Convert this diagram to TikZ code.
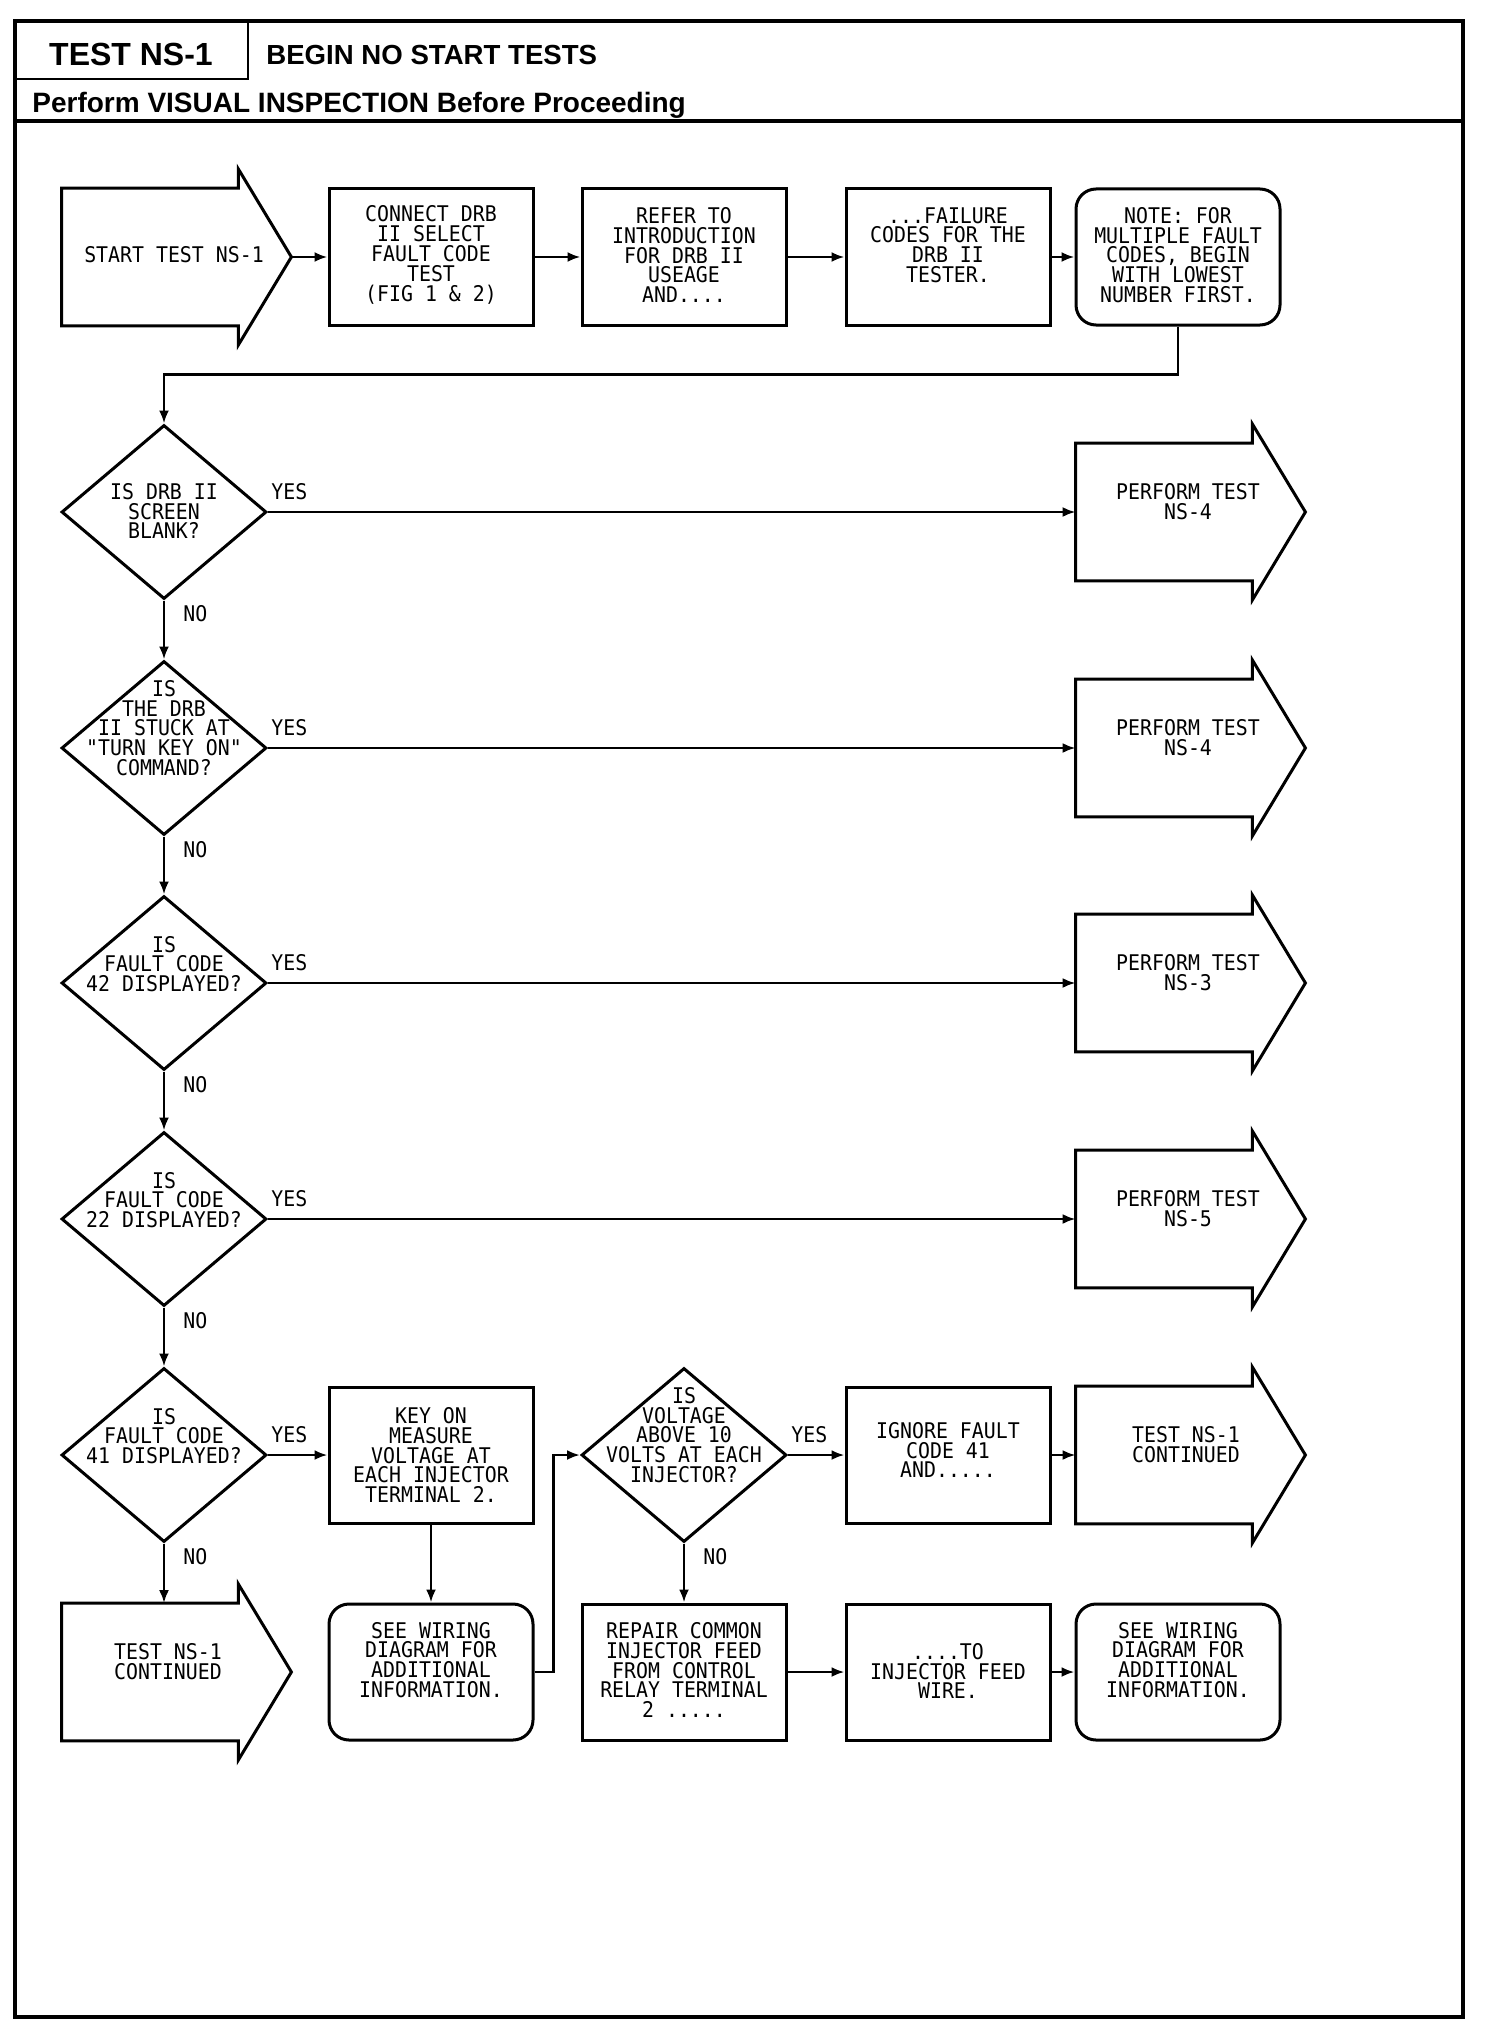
\documentclass[tikz,border=0pt]{standalone}
\usepackage{fontspec}
\setmainfont{Liberation Sans}
\newfontfamily\plotfont[FakeStretch=0.92,BoldFont={DejaVu Sans Mono Bold}]{DejaVu Sans Mono}
\usetikzlibrary{shapes.geometric,arrows.meta,calc}
\newcommand\arrowoutline[1]{%
  \coordinate (#1tip) at ($(#1.east)+(53,0)$);
  \draw[shapeline] (#1.south west) -- (#1.north west) -- (#1.north east) -- ($(#1.north east)+(0,-19)$) -- (#1tip) -- ($(#1.south east)+(0,19)$) -- (#1.south east) -- cycle;}
\begin{document}
\begin{tikzpicture}[x=0.5pt,y=-0.5pt,
  shapeline/.style={line width=1.5pt,line join=miter},
  conn/.style={line width=1.3pt,-{Latex[length=6.5pt,width=5pt]}},
  stepbox/.style={draw,shapeline,rectangle,minimum width=102pt,minimum height=68pt,inner sep=0pt},
  roundbox/.style={stepbox,rounded corners=10pt},
  decision/.style={draw,shapeline,diamond,minimum width=102.5pt,minimum height=87pt,inner sep=0pt},
  arrowbody/.style={rectangle,minimum width=88pt,minimum height=68.5pt,inner sep=0pt},
  plottext/.style={font=\plotfont\fontsize{10.8}{9.9}\selectfont,align=center,inner sep=0pt},
  yesno/.style={font=\plotfont\fontsize{10.8}{10}\selectfont,inner sep=0pt},
]
\useasboundingbox (0,0) rectangle (1504,2028);
% frame and header
\draw[line width=1.8pt] (15,21) rectangle (1463,2017);
\draw[line width=1.4pt] (15,79) -- (248,79) -- (248,21);
\draw[line width=1.6pt] (15,121) -- (1463,121);
\node[font=\bfseries\fontsize{16}{16}\selectfont,anchor=base,inner sep=0pt] (title) at (131,66) {TEST NS-1};
\node[font=\bfseries\fontsize{13.8}{14}\selectfont,anchor=base west,inner sep=0pt] (begin) at (266,65) {BEGIN NO START TESTS};
\node[font=\bfseries\fontsize{14}{14}\selectfont,anchor=base west,inner sep=0pt] (visual) at (32,113) {Perform VISUAL INSPECTION Before Proceeding};

% top row
\node[arrowbody] (start) at (150,257) {};
\arrowoutline{start}
\node[plottext] (starttext) at (174,255) {START TEST NS-1};
\node[stepbox] (b2) at (431,257) {};
\node[plottext] (b2text) at (431,255) {CONNECT DRB\\II SELECT\\FAULT CODE\\TEST\\(FIG 1 \& 2)};
\node[stepbox] (b3) at (684,257) {};
\node[plottext] (b3text) at (684,255) {REFER TO\\INTRODUCTION\\FOR DRB II\\USEAGE\\AND....};
\node[stepbox] (b4) at (948,257) {};
\node[plottext] (b4text) at (948,245) {...FAILURE\\CODES FOR THE\\DRB II\\TESTER.};
\node[roundbox] (b5) at (1178,257) {};
\node[plottext] (b5text) at (1178,255) {NOTE: FOR\\MULTIPLE FAULT\\CODES, BEGIN\\WITH LOWEST\\NUMBER FIRST.};

% decisions column
\node[decision] (d1) at (164,512) {};
\node[plottext] (d1text) at (164,511) {IS DRB II\\SCREEN\\BLANK?};
\node[decision] (d2) at (164,748) {};
\node[plottext] (d2text) at (164,728) {IS\\THE DRB\\II STUCK AT\\"TURN KEY ON"\\COMMAND?};
\node[decision] (d3) at (164,983) {};
\node[plottext] (d3text) at (164,964) {IS\\FAULT CODE\\42 DISPLAYED?};
\node[decision] (d4) at (164,1219) {};
\node[plottext] (d4text) at (164,1200) {IS\\FAULT CODE\\22 DISPLAYED?};
\node[decision] (d5) at (164,1455) {};
\node[plottext] (d5text) at (164,1436) {IS\\FAULT CODE\\41 DISPLAYED?};

% perform test arrows
\node[arrowbody] (p1) at (1164,512) {};
\arrowoutline{p1}
\node[plottext] (p1text) at (1188,502) {PERFORM TEST\\NS-4};
\node[arrowbody] (p2) at (1164,748) {};
\arrowoutline{p2}
\node[plottext] (p2text) at (1188,738) {PERFORM TEST\\NS-4};
\node[arrowbody] (p3) at (1164,983) {};
\arrowoutline{p3}
\node[plottext] (p3text) at (1188,973) {PERFORM TEST\\NS-3};
\node[arrowbody] (p4) at (1164,1219) {};
\arrowoutline{p4}
\node[plottext] (p4text) at (1188,1209) {PERFORM TEST\\NS-5};

% bottom rows
\node[stepbox] (k) at (431,1455) {};
\node[plottext] (ktext) at (431,1455) {KEY ON\\MEASURE\\VOLTAGE AT\\EACH INJECTOR\\TERMINAL 2.};
\node[decision] (d6) at (684,1455) {};
\node[plottext] (d6text) at (684,1435) {IS\\VOLTAGE\\ABOVE 10\\VOLTS AT EACH\\INJECTOR?};
\node[stepbox] (ig) at (948,1455) {};
\node[plottext] (igtext) at (948,1450) {IGNORE FAULT\\CODE 41\\AND.....};
\node[arrowbody] (c2) at (1164,1455) {};
\arrowoutline{c2}
\node[plottext] (c2text) at (1186,1445) {TEST NS-1\\CONTINUED};

\node[arrowbody] (c1) at (150,1672) {};
\arrowoutline{c1}
\node[plottext] (c1text) at (168,1662) {TEST NS-1\\CONTINUED};
\node[roundbox] (s1) at (431,1672) {};
\node[plottext] (s1text) at (431,1660) {SEE WIRING\\DIAGRAM FOR\\ADDITIONAL\\INFORMATION.};
\node[stepbox] (rp) at (684,1672) {};
\node[plottext] (rptext) at (684,1670) {REPAIR COMMON\\INJECTOR FEED\\FROM CONTROL\\RELAY TERMINAL\\2 .....};
\node[stepbox] (to) at (948,1672) {};
\node[plottext] (totext) at (948,1671) {....TO\\INJECTOR FEED\\WIRE.};
\node[roundbox] (s2) at (1178,1672) {};
\node[plottext] (s2text) at (1178,1660) {SEE WIRING\\DIAGRAM FOR\\ADDITIONAL\\INFORMATION.};

% connectors
\draw[conn] (starttip) -- (b2.west);
\draw[conn] (b2) -- (b3);
\draw[conn] (b3) -- (b4);
\draw[conn] (b4) -- (b5);
\draw[conn] (b5.south) -- ++(0,48) -| (d1.north);
\draw[conn] (d1.east) -- (p1.west);
\draw[conn] (d2.east) -- (p2.west);
\draw[conn] (d3.east) -- (p3.west);
\draw[conn] (d4.east) -- (p4.west);
\draw[conn] (d1.south) -- (d2.north);
\draw[conn] (d2.south) -- (d3.north);
\draw[conn] (d3.south) -- (d4.north);
\draw[conn] (d4.south) -- (d5.north);
\draw[conn] (d5.south) -- (d5.south |- c1.north);
\draw[conn] (d5.east) -- (k.west);
\draw[conn] (k.south) -- (s1.north);
\draw[conn] (s1.east) -- ++(19,0) |- (d6.west);
\draw[conn] (d6.east) -- (ig.west);
\draw[conn] (ig.east) -- (c2.west);
\draw[conn] (d6.south) -- (rp.north);
\draw[conn] (rp.east) -- (to.west);
\draw[conn] (to.east) -- (s2.west);

% labels
\foreach \d in {d1,d2,d3,d4,d5,d6}{
  \node[yesno,anchor=west] (\d yes) at ($(\d.east)+(3,-20)$) {YES};
  \node[yesno,anchor=west] (\d no) at ($(\d.south)+(19,13)$) {NO};
}
\end{tikzpicture}
\end{document}
